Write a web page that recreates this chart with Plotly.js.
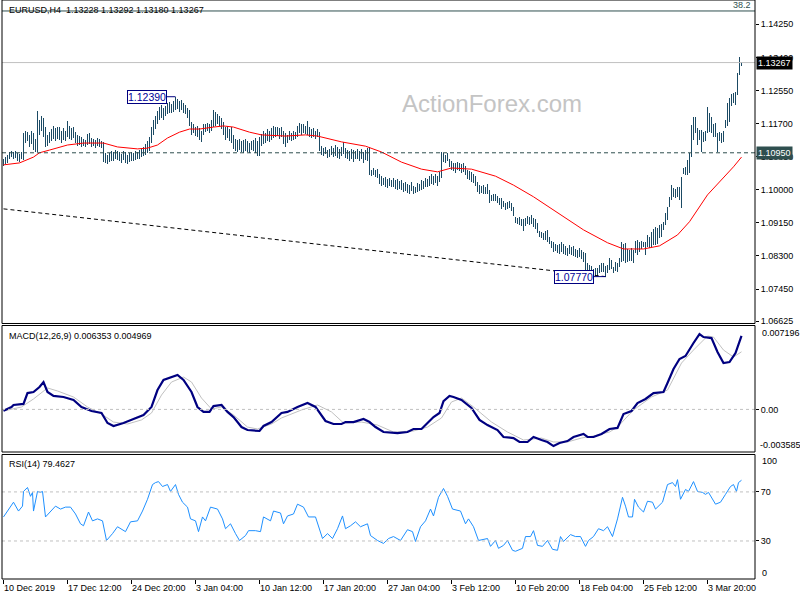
<!DOCTYPE html>
<html><head><meta charset="utf-8">
<script src="https://cdn.plot.ly/plotly-3.0.1.min.js"></script>
<style>html,body{margin:0;padding:0;background:#fff}#chart{width:800px;height:600px}</style>
</head><body><div id="chart"></div>
<script>
// ---------- DATA ----------
const symbolTitle = 'EURUSD,H4\u00a0\u00a01.13228 1.13292 1.13180 1.13267';
const macdTitle = 'MACD(12,26,9) 0.006353 0.004969';
const rsiTitle = 'RSI(14) 79.4627';

const barHigh = [
1.1080,1.1084,1.1090,1.1097,1.1100,1.1098,1.1099,1.1094,1.1092,1.1097,
1.1146,1.1150,1.1148,1.1140,1.1152,1.1145,1.1130,1.1202,1.1180,1.1190,
1.1185,1.1160,1.1140,1.1148,1.1155,1.1165,1.1158,1.1162,1.1160,1.1152,
1.1158,1.1150,1.1176,1.1165,1.1158,1.1160,1.1148,1.1140,1.1138,1.1135,
1.1130,1.1128,1.1142,1.1146,1.1132,1.1130,1.1128,1.1133,1.1130,1.1126,
1.1123,1.1095,1.1090,1.1095,1.1100,1.1098,1.1102,1.1100,1.1096,1.1092,
1.1099,1.1096,1.1090,1.1094,1.1097,1.1095,1.1099,1.1097,1.1102,1.1108,
1.1110,1.1118,1.1125,1.1135,1.1160,1.1178,1.1190,1.1202,1.1212,1.1218,
1.1210,1.1215,1.1222,1.1225,1.1220,1.1228,1.1239,1.1232,1.1228,1.1230,
1.1224,1.1218,1.1210,1.1205,1.1175,1.1168,1.1160,1.1165,1.1158,1.1150,
1.1170,1.1168,1.1172,1.1168,1.1180,1.1206,1.1200,1.1195,1.1190,1.1185,
1.1175,1.1160,1.1165,1.1155,1.1160,1.1140,1.1130,1.1128,1.1130,1.1125,
1.1128,1.1130,1.1125,1.1120,1.1126,1.1128,1.1132,1.1125,1.1135,1.1142,
1.1150,1.1145,1.1155,1.1150,1.1158,1.1165,1.1160,1.1162,1.1158,1.1160,
1.1150,1.1145,1.1140,1.1150,1.1145,1.1152,1.1148,1.1165,1.1172,1.1168,
1.1170,1.1165,1.1177,1.1160,1.1155,1.1158,1.1152,1.1156,1.1148,1.1112,
1.1108,1.1110,1.1102,1.1106,1.1112,1.1108,1.1114,1.1110,1.1104,1.1110,
1.1122,1.1108,1.1102,1.1100,1.1106,1.1102,1.1100,1.1104,1.1100,1.1105,
1.1098,1.1102,1.1108,1.1110,1.1052,1.1055,1.1050,1.1053,1.1040,1.1035,
1.1030,1.1032,1.1028,1.1030,1.1025,1.1030,1.1026,1.1028,1.1022,1.1025,
1.1018,1.1020,1.1015,1.1012,1.1020,1.1010,1.1008,1.1018,1.1015,1.1025,
1.1022,1.1030,1.1028,1.1035,1.1040,1.1036,1.1040,1.1035,1.1045,1.1096,
1.1094,1.1090,1.1094,1.1080,1.1075,1.1070,1.1068,1.1072,1.1070,1.1066,
1.1068,1.1060,1.1050,1.1048,1.1045,1.1040,1.1035,1.1020,1.1012,1.1010,
1.1012,1.1008,1.1015,1.1000,1.0987,1.0988,1.0990,1.0985,1.0980,1.0978,
1.0972,1.0966,1.0968,1.0970,1.0965,1.0955,1.0930,1.0928,1.0930,1.0926,
1.0925,1.0928,1.0932,1.0930,1.0934,1.0928,1.0925,1.0915,1.0895,1.0892,
1.0888,1.0895,1.0898,1.0880,1.0868,1.0865,1.0862,1.0858,1.0860,1.0865,
1.0860,1.0856,1.0850,1.0858,1.0852,1.0855,1.0848,1.0846,1.0850,1.0845,
1.0840,1.0838,1.0812,1.0808,1.0805,1.0797,1.0800,1.0800,1.0808,1.0812,
1.0812,1.0805,1.0807,1.0825,1.0820,1.0802,1.0815,1.0812,1.0825,1.0866,
1.0860,1.0864,1.0848,1.0845,1.0850,1.0845,1.0869,1.0871,1.0866,1.0869,
1.0866,1.0866,1.0884,1.0880,1.0892,1.0900,1.0905,1.0902,1.0910,1.0912,
1.0918,1.0940,1.0956,1.0982,1.1012,1.1005,1.1002,1.1007,1.1007,1.1033,
1.1056,1.1059,1.1077,1.1095,1.1166,1.1187,1.1187,1.1159,1.1154,1.1154,
1.1148,1.1150,1.1213,1.1197,1.1187,1.1168,1.1172,1.1146,1.1148,1.1145,
1.1150,1.1180,1.1223,1.1235,1.1245,1.1248,1.1251,1.1300,1.1341,1.13292
];
const barLow = [
1.1062,1.1066,1.1070,1.1078,1.1083,1.1080,1.1082,1.1075,1.1072,1.1080,
1.1077,1.1120,1.1125,1.1110,1.1118,1.1102,1.1098,1.1098,1.1140,1.1150,
1.1135,1.1110,1.1112,1.1120,1.1125,1.1130,1.1125,1.1130,1.1128,1.1120,
1.1128,1.1125,1.1135,1.1130,1.1128,1.1132,1.1120,1.1112,1.1115,1.1110,
1.1112,1.1110,1.1115,1.1118,1.1110,1.1112,1.1108,1.1112,1.1110,1.1108,
1.1071,1.1068,1.1066,1.1072,1.1075,1.1074,1.1080,1.1077,1.1074,1.1070,
1.1076,1.1068,1.1066,1.1072,1.1075,1.1073,1.1077,1.1078,1.1080,1.1083,
1.1088,1.1090,1.1095,1.1100,1.1120,1.1140,1.1155,1.1170,1.1180,1.1185,
1.1180,1.1190,1.1195,1.1198,1.1196,1.1200,1.1205,1.1208,1.1200,1.1205,
1.1198,1.1195,1.1185,1.1165,1.1140,1.1145,1.1138,1.1135,1.1128,1.1122,
1.1140,1.1148,1.1150,1.1145,1.1150,1.1160,1.1165,1.1168,1.1165,1.1155,
1.1140,1.1128,1.1132,1.1125,1.1120,1.1105,1.1100,1.1098,1.1102,1.1098,
1.1095,1.1100,1.1098,1.1095,1.1102,1.1100,1.1095,1.1088,1.1086,1.1112,
1.1118,1.1120,1.1125,1.1122,1.1128,1.1132,1.1135,1.1138,1.1130,1.1135,
1.1118,1.1110,1.1120,1.1128,1.1125,1.1128,1.1130,1.1135,1.1145,1.1140,
1.1145,1.1142,1.1140,1.1135,1.1133,1.1135,1.1130,1.1135,1.1100,1.1090,
1.1086,1.1092,1.1082,1.1085,1.1090,1.1084,1.1088,1.1082,1.1080,1.1086,
1.1092,1.1082,1.1078,1.1075,1.1080,1.1072,1.1078,1.1080,1.1074,1.1078,
1.1070,1.1076,1.1075,1.1038,1.1035,1.1038,1.1032,1.1030,1.1015,1.1010,
1.1012,1.1008,1.1005,1.1010,1.1006,1.1008,1.1002,1.1000,1.1003,1.1000,
1.0995,1.0998,1.0992,1.0990,1.0996,1.0990,1.0992,1.0995,1.0998,1.1000,
1.1003,1.1006,1.1008,1.1010,1.1015,1.1012,1.1018,1.1010,1.1020,1.1030,
1.1072,1.1068,1.1075,1.1058,1.1050,1.1048,1.1042,1.1050,1.1048,1.1044,
1.1046,1.1038,1.1028,1.1025,1.1020,1.1018,1.1010,1.0995,1.0990,1.0992,
1.0990,1.0988,1.0990,1.0966,1.0972,1.0972,1.0972,1.0965,1.0960,1.0950,
1.0955,1.0948,1.0950,1.0953,1.0945,1.0932,1.0915,1.0912,1.0910,1.0908,
1.0893,1.0908,1.0912,1.0910,1.0912,1.0905,1.0900,1.0890,1.0880,1.0875,
1.0870,1.0872,1.0866,1.0862,1.0850,1.0840,1.0842,1.0838,1.0835,1.0840,
1.0836,1.0832,1.0830,1.0835,1.0832,1.0830,1.0828,1.0825,1.0828,1.0822,
1.0815,1.0795,1.0792,1.0790,1.0789,1.0783,1.0782,1.0778,1.0787,1.0790,
1.0789,1.0777,1.0787,1.0794,1.0797,1.0787,1.0792,1.0789,1.0802,1.0815,
1.0818,1.0812,1.0815,1.0818,1.0818,1.0812,1.0838,1.0833,1.0840,1.0848,
1.0853,1.0833,1.0853,1.0850,1.0853,1.0858,1.0858,1.0860,1.0876,1.0880,
1.0897,1.0910,1.0923,1.0956,1.0974,1.0982,1.0980,1.0982,1.0975,1.0953,
1.1040,1.1038,1.1038,1.1043,1.1084,1.1128,1.1146,1.1115,1.1128,1.1097,
1.1123,1.1125,1.1146,1.1148,1.1146,1.1135,1.1136,1.1097,1.1125,1.1120,
1.1122,1.1158,1.1165,1.1175,1.1215,1.1222,1.1218,1.1243,1.1295,1.13180
];

// moving average (red), read at sampled bars
const maIdx = [0,8,15,18,23,32,40,50,57,67,72,77,82,88,93,98,105,110,115,123,129,141,151,157,169,181,189,199,209,217,224,234,246,255,265,277,290,302,310,320,328,337,343,352,360,365,369];
const maVal = [1.1064,1.1069,1.1084,1.1095,1.1102,1.1115,1.1120,1.1120,1.1110,1.1105,1.1107,1.1115,1.1133,1.1148,1.1156,1.1156,1.1161,1.1164,1.1161,1.1148,1.1141,1.1138,1.1141,1.1138,1.1123,1.1112,1.1097,1.1071,1.1053,1.1046,1.1056,1.1053,1.1035,1.1012,1.0982,1.0941,1.0897,1.0864,1.0848,1.0848,1.0856,1.0884,1.0918,1.0987,1.1030,1.1059,1.1084];

// descending trendline
const trendIdx = [0, 301];
const trendVal = [1.0951, 1.0777];

// horizontal levels
const fibPrice = 1.14592; const fibText = '38.2';
const lastPrice = 1.13267;
const keyLevel = 1.10950;

// marked swing points
const markIdx = [86, 301];
const markPrice = [1.1239, 1.0777];
const markText = ['1.12390', '1.07770'];

// MACD
const macdIdx = [0,4,5,10,12,15,18,20,22,25,30,35,39,44,49,52,55,60,65,70,74,77,80,84,87,90,94,97,100,103,105,109,112,115,119,122,128,130,134,139,142,147,152,156,159,161,165,169,171,175,180,183,186,190,197,202,205,209,212,215,218,220,223,225,229,234,238,242,247,250,255,258,262,265,269,272,275,278,282,285,290,292,295,299,303,307,310,314,317,321,325,330,332,335,338,341,345,348,350,354,357,360,363,366,369];
const macdMain = [-0.00011,0.00021,0.00038,0.00047,0.00141,0.00150,0.00193,0.00236,0.00150,0.00116,0.00107,0.00081,0.00021,-0.00014,-0.00031,-0.00117,-0.00143,-0.00117,-0.00083,-0.00048,0.00021,0.00167,0.00254,0.00279,0.00297,0.00254,0.00150,0.00021,-0.00022,-0.00022,0.00029,0.00038,-0.00022,-0.00066,-0.00152,-0.00178,-0.00186,-0.00143,-0.00109,-0.00031,-0.00022,0.00021,0.00055,0.00021,-0.00048,-0.00100,-0.00126,-0.00126,-0.00109,-0.00109,-0.00083,-0.00109,-0.00152,-0.00195,-0.00204,-0.00195,-0.00169,-0.00169,-0.00117,-0.00066,-0.00031,0.00072,0.00116,0.00107,0.00081,0.00012,-0.00091,-0.00135,-0.00178,-0.00238,-0.00247,-0.00281,-0.00281,-0.00238,-0.00264,-0.00281,-0.00316,-0.00290,-0.00273,-0.00238,-0.00212,-0.00238,-0.00238,-0.00212,-0.00169,-0.00160,-0.00040,-0.00014,0.00055,0.00090,0.00141,0.00150,0.00228,0.00348,0.00435,0.00461,0.00573,0.00650,0.00624,0.00615,0.00495,0.00400,0.00409,0.00486,0.00635];
const sigIdx = [0,9,15,22,27,35,42,49,55,62,69,74,79,84,90,94,99,104,109,115,122,127,134,139,149,157,164,170,179,187,195,205,212,219,224,229,235,244,252,260,269,275,282,289,295,303,307,315,324,332,339,345,352,355,360,365,369];
const macdSignal = [-0.00014,0.00021,0.00090,0.00185,0.00159,0.00107,0.00021,-0.00040,-0.00109,-0.00126,-0.00091,-0.00031,0.00124,0.00236,0.00279,0.00236,0.00098,0.00003,0.00021,-0.00048,-0.00152,-0.00169,-0.00126,-0.00074,-0.00005,0.00038,-0.00022,-0.00117,-0.00109,-0.00135,-0.00195,-0.00186,-0.00152,-0.00074,0.00064,0.00098,0.00021,-0.00109,-0.00195,-0.00264,-0.00247,-0.00281,-0.00281,-0.00247,-0.00229,-0.00195,-0.00152,-0.00005,0.00107,0.00167,0.00400,0.00512,0.00633,0.00624,0.00512,0.00452,0.00497];
const macdTicksOuter = ['0.007196', '-0.003585'];

// RSI
const rsiIdx = [0,2,5,7.5,9.5,10,12,13.5,14.5,15,17,18.5,19.5,21,23.5,26,28.5,31,33.5,36,38.5,40,42.5,44.5,47,49.5,51.5,54.5,57,58.5,61,63.5,67,69.5,72,74.5,76,77.5,79.5,82,83.5,86,87.5,89.5,92,93.5,96,97.5,99.5,101,103.5,107,109.5,111,113.5,116,118,121,122.5,126,128.5,130,133.5,135,138.5,140,142,145,147,150,152.5,156,157.5,159.5,162,164.5,167,169.5,171,173.5,176,178.5,182,183.5,187,190,192.5,195,198.5,202,204.5,206,208.5,211,213.5,215,217.5,220,222,224.5,228.5,231,232.5,235,237.5,242,243.5,246,247.5,250,252,254.5,256,259.5,261,263.5,265,267,269.5,272,274.5,277,278.5,280,283.5,286,288.5,291,292.5,295,297.5,300,302,304.5,307,309.5,311,312.5,314.5,315.5,317.5,320,322,324.5,326,329.5,332,334.5,336,337,338.5,341,342.5,345,347,349.5,351,352.5,356,358.5,361,363.5,365,366.5,367.5,369];
const rsiVal = [49.6,54.4,61.6,54.4,58.4,70.4,73.6,66.4,69.6,54.4,70.4,69.6,70.4,49.6,53.6,58.4,56.0,57.6,57.6,52.0,44.0,42.4,53.6,46.4,48.0,46.4,30.4,36.0,41.6,40.0,37.6,45.6,46.4,54.4,64.0,76.0,77.6,78.4,74.4,76.0,70.4,76.0,68.0,61.6,57.6,48.0,46.4,37.6,49.6,46.4,57.6,56.0,48.0,40.0,44.0,36.0,30.4,34.4,38.4,38.4,37.6,49.6,46.4,54.4,52.8,44.0,50.4,52.0,60.0,57.6,49.6,49.6,41.6,32.0,36.0,32.0,40.0,50.4,40.0,42.4,45.6,41.6,44.0,34.4,30.4,28.0,32.0,33.6,30.4,39.2,37.6,29.6,41.6,46.4,56.0,50.4,65.6,72.8,66.4,56.0,54.4,44.0,48.0,41.6,30.4,32.0,25.6,30.4,24.0,26.4,30.4,22.4,21.6,24.0,33.6,33.6,38.4,26.4,25.6,30.4,23.2,22.4,33.6,29.6,35.2,33.6,33.6,25.6,30.4,33.6,40.0,38.4,41.6,33.6,48.0,65.6,58.4,49.6,49.6,64.0,57.6,53.6,62.4,61.6,56.0,61.6,76.0,77.6,74.4,80.0,64.0,72.0,70.4,78.4,70.4,69.6,68.0,69.6,60.0,61.6,68.0,74.4,76.0,70.4,77.6,79.5];
const rsiLevels = [70, 30];

// axis ticks
const xTickIdx = [0,32,64,96,128,160,192,224,256,288,320,352];
const xTickText = ['10 Dec 2019','17 Dec 12:00','24 Dec 20:00','3 Jan 04:00','10 Jan 12:00','17 Jan 20:00','27 Jan 04:00','3 Feb 12:00','10 Feb 20:00','18 Feb 04:00','25 Feb 12:00','3 Mar 20:00'];
const priceTicks = [1.14250,1.13400,1.12550,1.11700,1.10850,1.10000,1.09150,1.08300,1.07450,1.06625];

// ---------- STYLE / LAYOUT ----------
const FONT = 'Liberation Sans, Arial, sans-serif';
const BARCOL = '#1b4a64';
const pX = px => (px - 2) / 753;       // pixel -> paper x
const pY = py => 1 - py / 579;         // pixel -> paper y

const barIdx = barHigh.map((_, i) => i);
const traces = [
  {type:'bar', x:barIdx, base:barLow, y:barHigh.map((h,i)=>h-barLow[i]), width:0.5,
   marker:{color:BARCOL, line:{width:0}}, yaxis:'y', hoverinfo:'skip'},
  {type:'scatter', mode:'lines', x:maIdx, y:maVal, line:{color:'#ff0000', width:1}, yaxis:'y', hoverinfo:'skip'},
  {type:'scatter', mode:'lines', x:trendIdx, y:trendVal, line:{color:'#000000', width:1, dash:'4px,3px'}, yaxis:'y', hoverinfo:'skip'},
  {type:'scatter', mode:'lines', x:sigIdx, y:macdSignal, line:{color:'#c0c0c0', width:1}, yaxis:'y2', hoverinfo:'skip'},
  {type:'scatter', mode:'lines', x:macdIdx, y:macdMain, line:{color:'#000080', width:2.2}, yaxis:'y2', hoverinfo:'skip'},
  {type:'scatter', mode:'lines', x:rsiIdx, y:rsiVal, line:{color:'#1e90ff', width:1}, yaxis:'y3', hoverinfo:'skip'}
];

const yCommon = {side:'right', anchor:'x', showgrid:false, zeroline:false, showline:false,
  ticks:'outside', ticklen:3, tickcolor:'#000', tickfont:{family:FONT, size:9, color:'#000'}, fixedrange:true};

const shapes = [
  {type:'line', xref:'paper', x0:0, x1:1, yref:'y', y0:fibPrice, y1:fibPrice, line:{color:'#2f4f4f', width:1}},
  {type:'line', xref:'paper', x0:0, x1:1, yref:'y', y0:lastPrice, y1:lastPrice, line:{color:'#c0c0c0', width:1}},
  {type:'line', xref:'paper', x0:0, x1:1, yref:'y', y0:keyLevel, y1:keyLevel, line:{color:'#2f4f4f', width:1, dash:'4px,3px'}},
  {type:'line', xref:'paper', x0:0, x1:1, yref:'y2', y0:0, y1:0, line:{color:'#c0c0c0', width:1, dash:'3px,3px'}},
  ...rsiLevels.map(v => ({type:'line', xref:'paper', x0:0, x1:1, yref:'y3', y0:v, y1:v, line:{color:'#c0c0c0', width:1, dash:'3px,3px'}})),
  {type:'rect', xref:'paper', x0:0, x1:1, yref:'y domain', y0:0, y1:1, line:{color:'#000', width:1}, layer:'above'},
  {type:'rect', xref:'paper', x0:0, x1:1, yref:'y2 domain', y0:0, y1:1, line:{color:'#000', width:1}, layer:'above'},
  {type:'rect', xref:'paper', x0:0, x1:1, yref:'y3 domain', y0:0, y1:1, line:{color:'#000', width:1}, layer:'above'}
];

const txt = (text, x, y, opts={}) => Object.assign({text, x, y, xref:'paper', yref:'paper', showarrow:false,
  xanchor:'left', yanchor:'middle', font:{family:FONT, size:9, color:'#000'}}, opts);

const annotations = [
  txt(symbolTitle, pX(7), pY(10.5)),
  txt(macdTitle, pX(7), pY(335.5)),
  txt(rsiTitle, pX(7), pY(463.5)),
  {text:fibText, x:pX(753), y:fibPrice, xref:'paper', yref:'y', showarrow:false, xanchor:'right', yanchor:'bottom',
   yshift:-1, font:{family:FONT, size:9, color:'#2f4f4f'}},
  {text:'ActionForex.com', x:pX(492), y:pY(103), xref:'paper', yref:'paper', showarrow:false,
   xanchor:'center', yanchor:'middle', font:{family:FONT, size:24, color:'#c4c4c4'}},
  // right-side price tags
  {text:lastPrice.toFixed(5), x:1, y:lastPrice, xref:'paper', yref:'y', showarrow:false, xanchor:'left', yanchor:'middle',
   bgcolor:'#000000', borderpad:1, xshift:1, font:{family:FONT, size:9, color:'#ffffff'}},
  {text:keyLevel.toFixed(5), x:1, y:keyLevel, xref:'paper', yref:'y', showarrow:false, xanchor:'left', yanchor:'middle',
   bgcolor:'#2f4f4f', borderpad:1, xshift:1, font:{family:FONT, size:9, color:'#ffffff'}},
  // edge labels of the indicator windows
  txt(macdTicksOuter[0], 1, pY(333), {xshift:5}),
  txt(macdTicksOuter[1], 1, pY(445), {xshift:3}),
  txt('100', 1, pY(461.3), {xshift:5}),
  txt('0', 1, pY(572.7), {xshift:5}),
  // swing labels
  ...markIdx.map((ix, k) => ({text:markText[k], x:ix, y:markPrice[k], xref:'x', yref:'y', showarrow:true,
    arrowhead:0, arrowwidth:1, arrowcolor:'#000080', ax:(k===0?-29:-31.5), ay:0, standoff:0,
    bordercolor:'#000080', borderwidth:1, borderpad:0, bgcolor:'#ffffff',
    font:{family:FONT, size:10.5, color:'#000099'}}))
];

const layout = {
  width:800, height:600, margin:{l:2, r:45, t:0, b:21, pad:0},
  paper_bgcolor:'#ffffff', plot_bgcolor:'#ffffff', showlegend:false,
  font:{family:FONT, size:9, color:'#000'},
  bargap:0,
  xaxis:{range:[-0.75, 375.75], anchor:'y3', tickmode:'array', tickvals:xTickIdx, ticktext:xTickText,
    ticks:'outside', ticklen:4, tickcolor:'#000', showgrid:false, zeroline:false, showline:false,
    ticklabelposition:'outside right', tickfont:{family:FONT, size:9, color:'#000'}, fixedrange:true},
  yaxis:Object.assign({}, yCommon, {domain:[0.44128, 1], range:[1.06566, 1.14874],
    tickmode:'array', tickvals:priceTicks, ticktext:priceTicks.map(v=>v.toFixed(5))}),
  yaxis2:Object.assign({}, yCommon, {domain:[0.21934, 0.43782], range:[-0.003674, 0.007237],
    tickmode:'array', tickvals:[0], ticktext:['0.00']}),
  yaxis3:Object.assign({}, yCommon, {domain:[0, 0.21503], range:[-1, 100.5],
    tickmode:'array', tickvals:rsiLevels, ticktext:rsiLevels.map(String)}),
  shapes, annotations
};

Plotly.newPlot('chart', traces, layout, {displayModeBar:false, staticPlot:true});
</script>
</body></html>
